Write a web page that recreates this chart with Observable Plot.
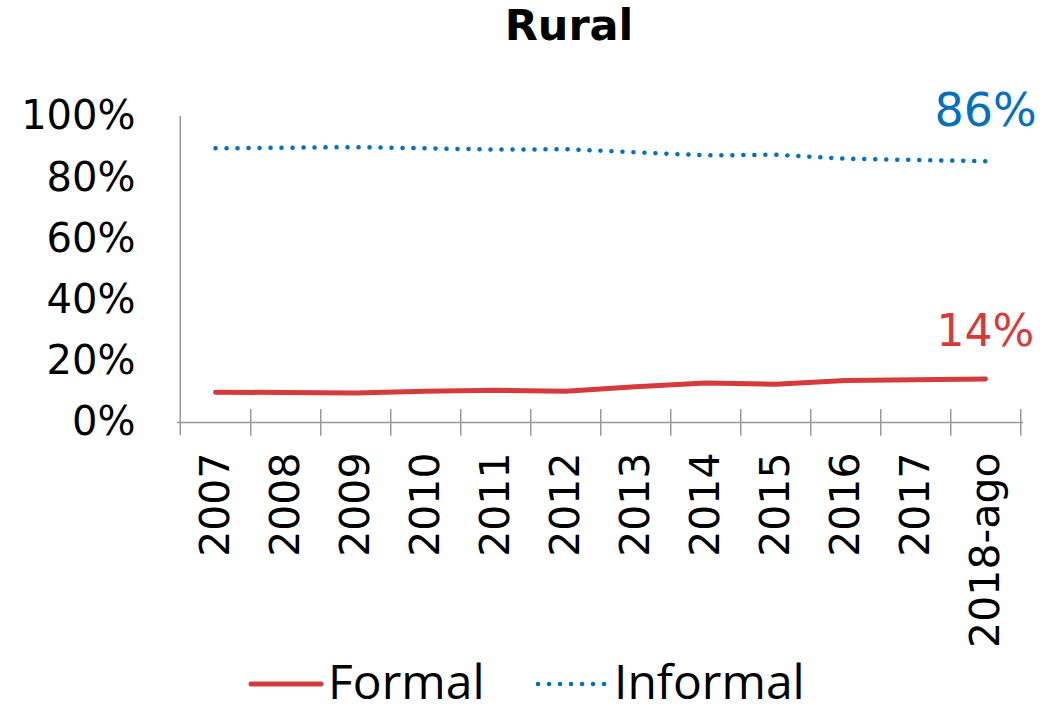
<!DOCTYPE html>
<html>
<head>
<meta charset="utf-8">
<script src="https://cdn.jsdelivr.net/npm/d3@7"></script>
<script src="https://cdn.jsdelivr.net/npm/@observablehq/plot@0.6"></script>
<style>
  body { margin: 0; background: #fff; width: 1045px; overflow: hidden; }
  #title { height: 62px; line-height: 62px; text-align: center; font: bold 43px "DejaVu Sans", sans-serif; color: #000; padding-left: 93px; }
  #legend { position: relative; height: 52px; font: 48px "Open Sans", sans-serif; color: #000; }
  #legend span, #legend svg { position: absolute; }
  #legend span { line-height: normal; white-space: nowrap; }
</style>
</head>
<body>
<div id="title">Rural</div>
<div id="chart"></div>
<div id="legend"></div>
<script>
const years = ["2007","2008","2009","2010","2011","2012","2013","2014","2015","2016","2017","2018-ago"];
const formal = [9.9, 9.8, 9.6, 10.2, 10.5, 10.2, 11.7, 12.9, 12.5, 13.7, 14.0, 14.2];
const informal = [89.6, 89.8, 90.0, 89.6, 89.2, 89.3, 88.3, 87.3, 87.5, 86.2, 85.8, 85.4];
const yTicks = [0, 20, 40, 60, 80, 100];
const seriesNames = ["Formal", "Informal"];
const endLabels = ["14%", "86%"];
const colors = ["#d63a3c", "#0070c0"];

const formalData = years.map((y, i) => ({year: y, value: formal[i]}));
const informalData = years.map((y, i) => ({year: y, value: informal[i]}));
const last = years[years.length - 1];
const step = (1023 - 177) / years.length;

const chart = Plot.plot({
  width: 1045,
  height: 600,
  marginLeft: 177,
  marginRight: 22,
  marginTop: 54,
  marginBottom: 240,
  style: {fontFamily: "DejaVu Sans, sans-serif", fontSize: "40px", color: "#000", background: "#fff"},
  x: {type: "point", domain: years, padding: 0.5},
  y: {domain: [0, 100]},
  marks: [
    Plot.axisY({ticks: yTicks, tickFormat: d => d + "%", tickSize: 0, tickPadding: 42, fontSize: 40, label: null}),
    Plot.axisX({tickRotate: -90, tickSize: 0, tickPadding: 30, fontSize: 41, label: null}),
    Plot.ruleY([0], {stroke: "#999", strokeWidth: 1.5}),
    Plot.ruleX([years[0]], {x: d => d, dx: -step / 2, y1: 100, y2: -4.3, stroke: "#999", strokeWidth: 1.5}),
    Plot.ruleX(years, {x: d => d, dx: step / 2, y1: 4.25, y2: -4.5, stroke: "#999", strokeWidth: 1.5}),
    Plot.line(formalData, {x: "year", y: "value", stroke: colors[0], strokeWidth: 5, strokeLinecap: "round", strokeLinejoin: "round"}),
    Plot.line(informalData, {x: "year", y: "value", stroke: colors[1], strokeWidth: 4.5, strokeDasharray: "0.1,10.9", strokeLinecap: "round"}),
    Plot.text([formalData[formalData.length - 1]], {x: "year", y: "value", text: () => endLabels[0], fill: colors[0], dy: -47, fontSize: 44}),
    Plot.text([informalData[informalData.length - 1]], {x: "year", y: "value", text: () => endLabels[1], fill: colors[1], dy: -50, fontSize: 46})
  ]
});
document.getElementById("chart").appendChild(chart);

const legend = document.getElementById("legend");
legend.innerHTML = `
  <svg style="left:246px;top:16px" width="80" height="12"><line x1="5" y1="6" x2="75" y2="6" stroke="${colors[0]}" stroke-width="5" stroke-linecap="round"/></svg>
  <span style="left:328px;top:-14px">${seriesNames[0]}</span>
  <svg style="left:533px;top:16px" width="84" height="12"><line x1="5" y1="6" x2="79" y2="6" stroke="${colors[1]}" stroke-width="4.5" stroke-dasharray="0.1,10.9" stroke-linecap="round"/></svg>
  <span style="left:614px;top:-14px">${seriesNames[1]}</span>`;
</script>
</body>
</html>
